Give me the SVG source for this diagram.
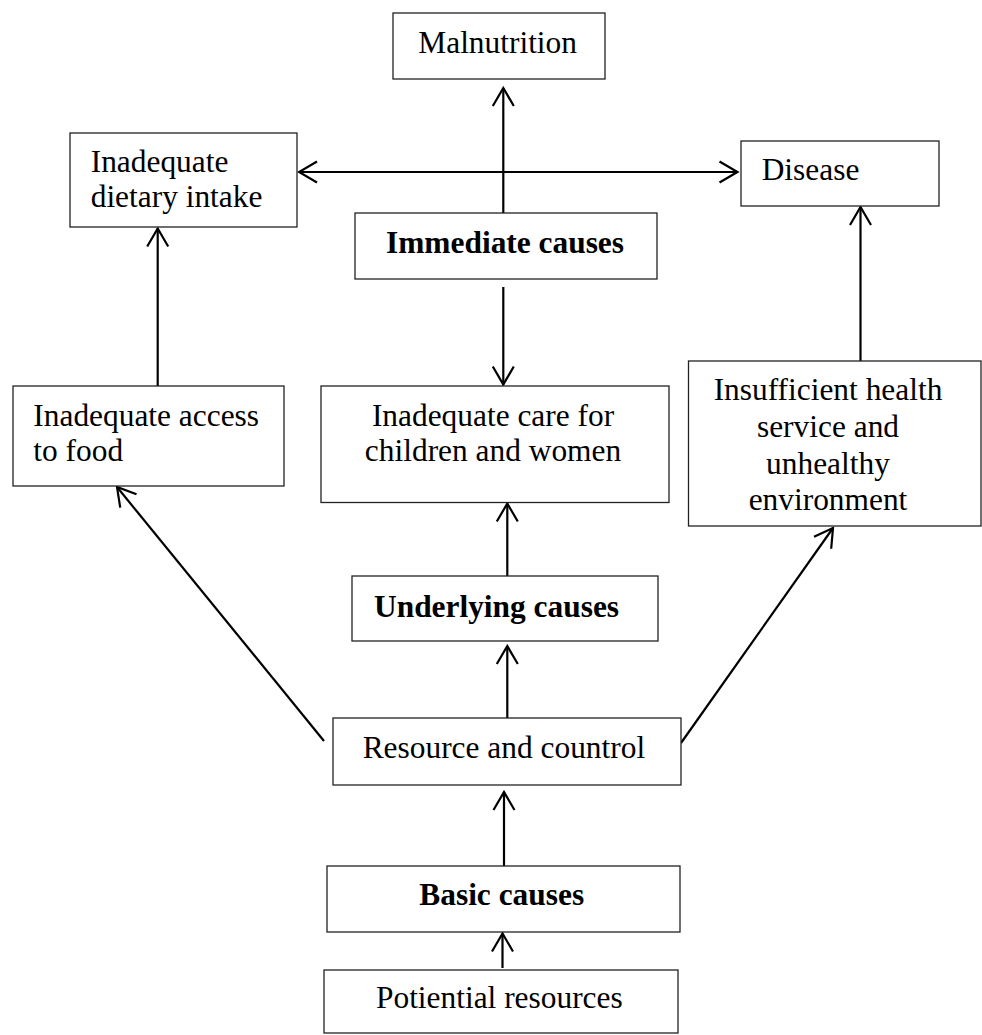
<svg xmlns="http://www.w3.org/2000/svg" width="982" height="1035" viewBox="0 0 982 1035">
<style>
.box{fill:#fff;stroke:#222;stroke-width:1.3}
.t{font-family:"Liberation Serif","Times New Roman",serif;font-size:31.4px;fill:#000}
.b{font-weight:bold}
.c{text-anchor:middle}
.con{fill:none;stroke:#000;stroke-width:2.2}
</style>
<defs>
<marker id="arr" viewBox="-22 -13 24 26" markerWidth="24" markerHeight="26" refX="0" refY="0" orient="auto-start-reverse" markerUnits="userSpaceOnUse">
<path d="M-18,-10.5 L0,0 L-18,10.5" fill="none" stroke="#000" stroke-width="2.2"/>
</marker>
</defs>
<rect width="982" height="1035" fill="#fff"/>
<g id="connectors">
<line class="con" x1="503.3" y1="213" x2="503.3" y2="88" marker-end="url(#arr)"/>
<line class="con" x1="299" y1="172" x2="737.5" y2="172" marker-start="url(#arr)" marker-end="url(#arr)"/>
<line class="con" x1="503.3" y1="287" x2="503.3" y2="384.5" marker-end="url(#arr)"/>
<line class="con" x1="157.7" y1="386" x2="157.7" y2="228.5" marker-end="url(#arr)"/>
<line class="con" x1="860.5" y1="361" x2="860.5" y2="207" marker-end="url(#arr)"/>
<line class="con" x1="507.3" y1="576" x2="507.3" y2="503.5" marker-end="url(#arr)"/>
<line class="con" x1="507.3" y1="718" x2="507.3" y2="646" marker-end="url(#arr)"/>
<line class="con" x1="324" y1="741" x2="117" y2="487" marker-end="url(#arr)"/>
<line class="con" x1="681" y1="743" x2="833" y2="528" marker-end="url(#arr)"/>
<line class="con" x1="504" y1="866" x2="504" y2="792" marker-end="url(#arr)"/>
<line class="con" x1="502.5" y1="968" x2="502.5" y2="933.5" marker-end="url(#arr)"/>
</g>
<g id="malnutrition">
<rect class="box" x="393" y="13" width="212" height="66"/>
<text class="t" x="418.3" y="53">Malnutrition</text>
</g>
<g id="dietary">
<rect class="box" x="70" y="133" width="227" height="94"/>
<text class="t" x="90.7" y="172">Inadequate</text>
<text class="t" x="90.7" y="207">dietary intake</text>
</g>
<g id="disease">
<rect class="box" x="741" y="141" width="198" height="65"/>
<text class="t" x="761.7" y="180">Disease</text>
</g>
<g id="immediate">
<rect class="box" x="355" y="213" width="302" height="66"/>
<text class="t b" x="386" y="253">Immediate causes</text>
</g>
<g id="access">
<rect class="box" x="13" y="386" width="271" height="100"/>
<text class="t" x="33.3" y="426">Inadequate access</text>
<text class="t" x="33.3" y="461">to food</text>
</g>
<g id="care">
<rect class="box" x="321" y="386" width="348" height="116.5"/>
<text class="t c" x="493" y="426">Inadequate care for</text>
<text class="t c" x="493" y="461">children and women</text>
</g>
<g id="health">
<rect class="box" x="688.5" y="361" width="292.5" height="165"/>
<text class="t c" x="828" y="400">Insufficient health</text>
<text class="t c" x="828" y="436.8">service and</text>
<text class="t c" x="828" y="473.6">unhealthy</text>
<text class="t c" x="828" y="510.4">environment</text>
</g>
<g id="underlying">
<rect class="box" x="352" y="576" width="306" height="65"/>
<text class="t b" x="374" y="616.7">Underlying causes</text>
</g>
<g id="resource">
<rect class="box" x="333" y="718" width="348" height="67"/>
<text class="t" x="362.7" y="757.5">Resource and countrol</text>
</g>
<g id="basic">
<rect class="box" x="327" y="866" width="353" height="66"/>
<text class="t b" x="419.3" y="905">Basic causes</text>
</g>
<g id="potential">
<rect class="box" x="324" y="970" width="354" height="63"/>
<text class="t" x="376" y="1008.3">Potiential resources</text>
</g>
</svg>
